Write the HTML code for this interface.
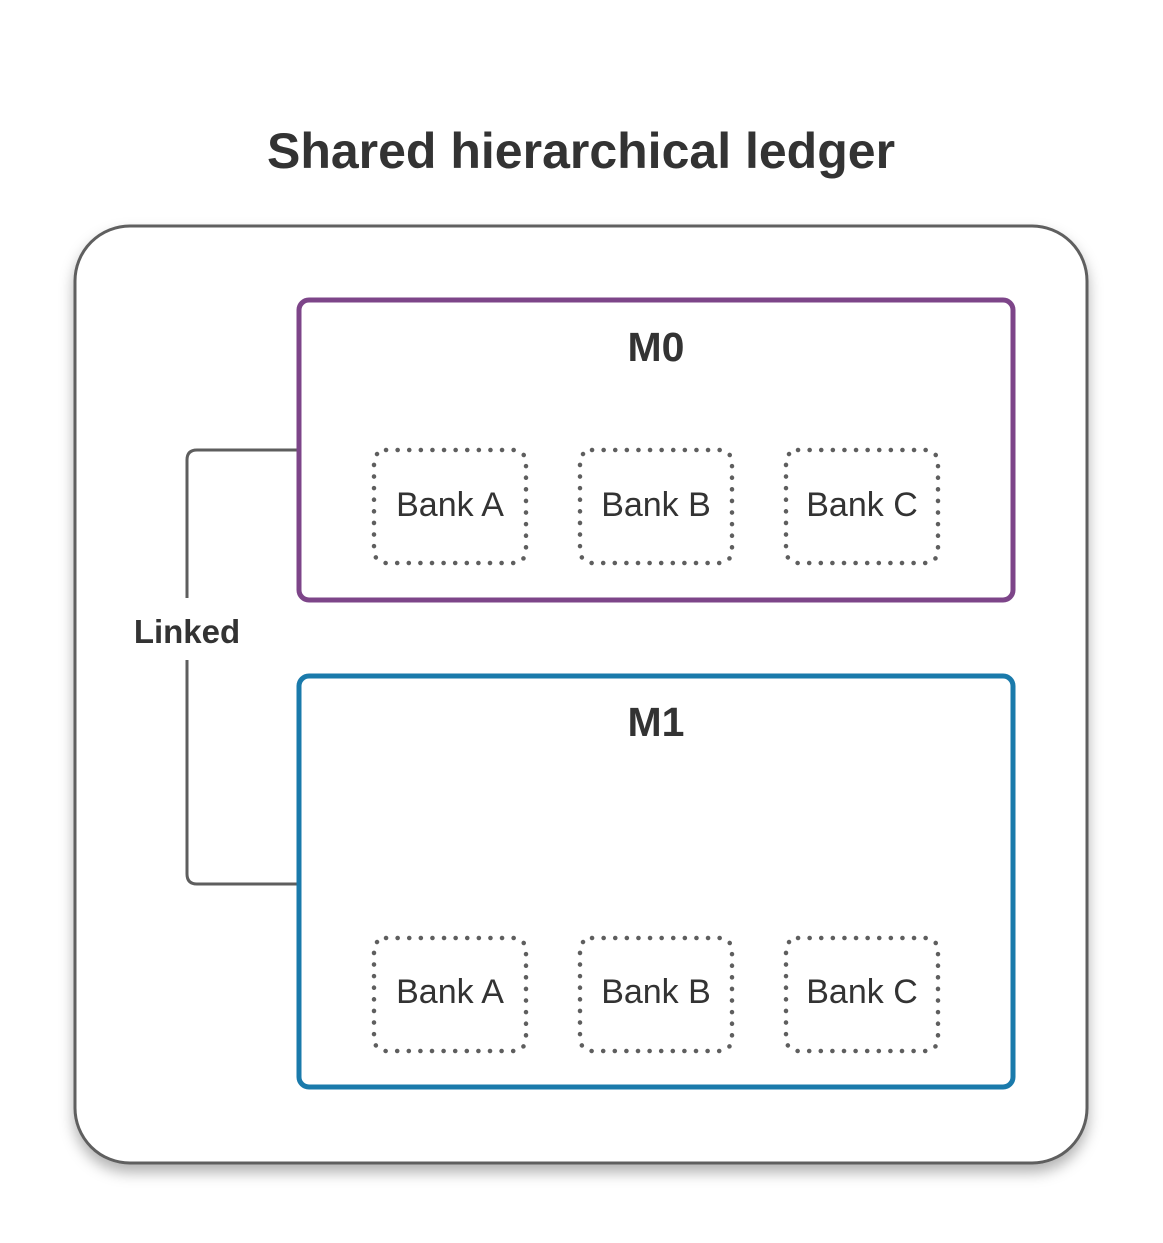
<!DOCTYPE html>
<html><head><style>body{margin:0;background:#fff}</style></head><body>
<svg width="1163" height="1238" xmlns="http://www.w3.org/2000/svg" font-family="Liberation Sans, sans-serif">
<defs><filter id="sh" x="-10%" y="-10%" width="130%" height="130%"><feDropShadow dx="0" dy="8" stdDeviation="7" flood-color="#000" flood-opacity="0.3"/></filter></defs>
<text x="581" y="168" text-anchor="middle" font-size="50" font-weight="bold" fill="#333">Shared hierarchical ledger</text>
<rect x="75" y="226" width="1012" height="937" rx="55" fill="#fff" stroke="#5e5e5e" stroke-width="3" filter="url(#sh)"/>
<path d="M299 450 H197 Q187 450 187 460 V598 M187 660 V874 Q187 884 197 884 H299" fill="none" stroke="#5e5e5e" stroke-width="3"/>
<text x="187" y="643" text-anchor="middle" font-size="33" font-weight="bold" fill="#333">Linked</text>
<rect x="299" y="300" width="714" height="300" rx="10" fill="#fff" stroke="#7d4589" stroke-width="5"/>
<text x="656" y="361" text-anchor="middle" font-size="41" font-weight="bold" fill="#333">M0</text>
<rect x="299" y="676" width="714" height="411" rx="10" fill="#fff" stroke="#1a7aab" stroke-width="5"/>
<text x="656" y="736" text-anchor="middle" font-size="41" font-weight="bold" fill="#333">M1</text>
<g fill="none" stroke="#5e5e5e" stroke-width="4.5" stroke-dasharray="0.1 11.5" stroke-linecap="round">
<rect x="374" y="450" width="152" height="113" rx="12"/>
<rect x="580" y="450" width="152" height="113" rx="12"/>
<rect x="786" y="450" width="152" height="113" rx="12"/>
<rect x="374" y="938" width="152" height="113" rx="12"/>
<rect x="580" y="938" width="152" height="113" rx="12"/>
<rect x="786" y="938" width="152" height="113" rx="12"/>
</g>
<g font-size="34" fill="#333" text-anchor="middle">
<text x="450" y="516">Bank A</text><text x="656" y="516">Bank B</text><text x="862" y="516">Bank C</text>
<text x="450" y="1003">Bank A</text><text x="656" y="1003">Bank B</text><text x="862" y="1003">Bank C</text>
</g>
</svg>
</body></html>
